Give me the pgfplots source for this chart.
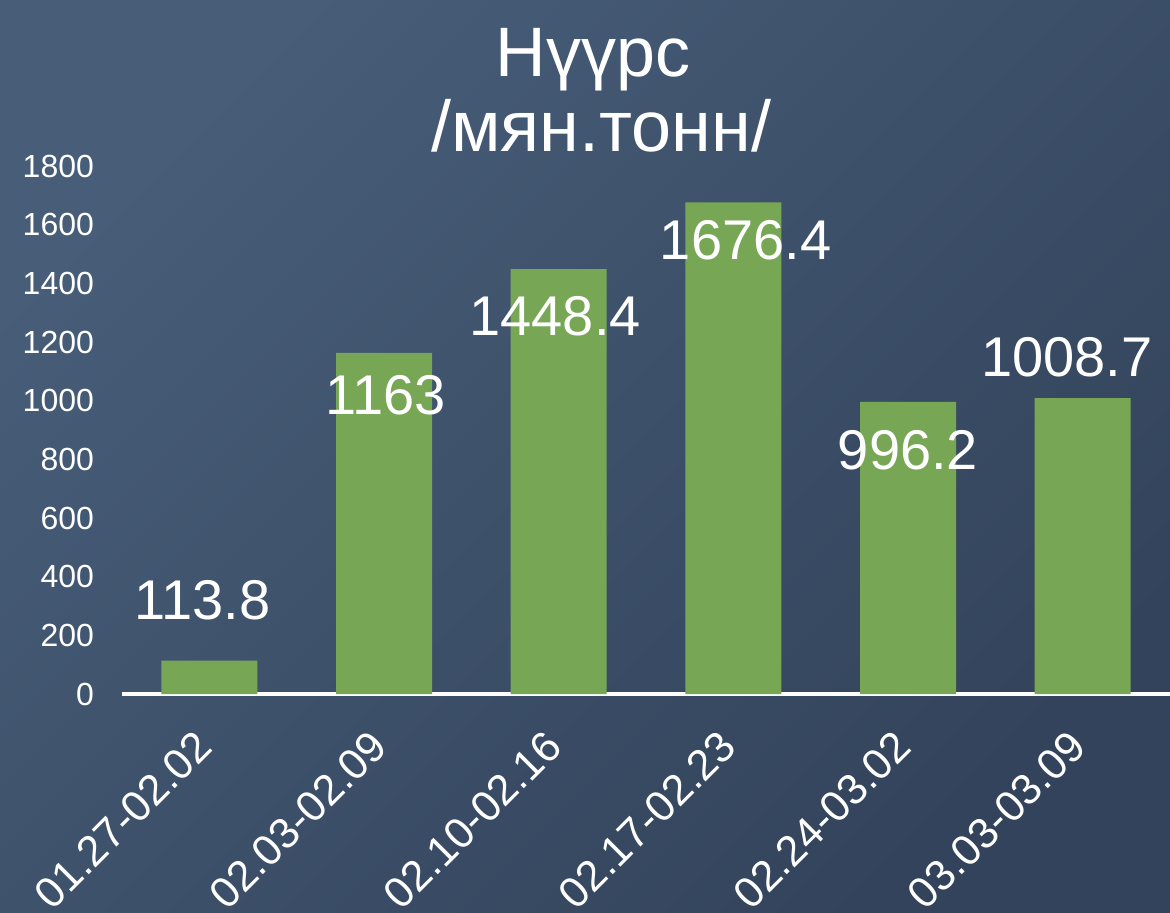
\documentclass[border=0pt]{standalone}
\usepackage{pgfplots}
\pgfplotsset{compat=1.18}
\usepackage{fontspec}
\setmainfont{Liberation Sans}
\definecolor{bgtl}{HTML}{475D78}
\definecolor{bgbr}{HTML}{33435B}
\definecolor{bargreen}{HTML}{77A755}
\begin{document}
\begin{tikzpicture}
\useasboundingbox (0,0) rectangle (585pt,456pt);
\shade[top color=bgtl, bottom color=bgbr, shading angle=45] (0,0) rectangle (585pt,456pt);
\node[anchor=base, text=white, font=\fontsize{35}{40}\selectfont, inner sep=0pt] at (296.5pt,417.5pt) {Нүүрс};
\node[anchor=base, text=white, font=\fontsize{36}{40}\selectfont, inner sep=0pt] at (300.5pt,380pt) {/мян.тонн/};
\begin{axis}[
  at={(61pt,109pt)}, anchor=south west,
  scale only axis, width=524pt, height=264pt,
  xmin=-0.5, xmax=5.5, ymin=0, ymax=1800,
  axis x line*=bottom, axis y line*=left,
  x axis line style={draw=white, line width=1.6pt, -},
  y axis line style={draw=none},
  major tick length=0pt,
  ytick={0,200,...,1800},
  xtick={0,1,2,3,4,5},
  xticklabels={01.27-02.02,02.03-02.09,02.10-02.16,02.17-02.23,02.24-03.02,03.03-03.09},
  /pgf/number format/assume math mode=true,
  /pgf/number format/1000 sep={},
  yticklabel style={font=\fontsize{16}{18}\selectfont, text=white, anchor=east, xshift=-10.5pt},
  xticklabel style={font=\fontsize{21.5}{24}\selectfont, text=white, rotate=45, anchor=east, yshift=-14.1pt, xshift=-14.1pt},
  clip=false,
]
\addplot[ybar, bar width=48pt, fill=bargreen, draw=none] coordinates {
  (0,113.8) (1,1163) (2,1448.4) (3,1676.4) (4,996.2) (5,1008.7)
};
\addplot[draw=none, mark=none, nodes near coords, point meta=explicit symbolic,
  every node near coord/.style={anchor=center, text=white, font=\fontsize{28}{30}\selectfont}]
  coordinates {
  (-0.04,320)[113.8] (1.01,1019)[1163] (1.98,1289)[1448.4] (3.07,1548)[1676.4] (4,832)[996.2] (4.91,1149)[1008.7]
};
\end{axis}
\end{tikzpicture}
\end{document}
